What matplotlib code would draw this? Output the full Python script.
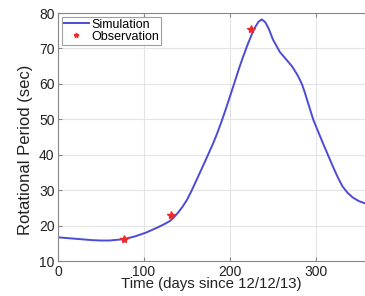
import matplotlib.pyplot as plt

plt.rcParams["font.family"] = ["Liberation Sans", "DejaVu Sans"]

# simulated rotational period
sim_days = [0, 20, 40, 50, 60, 77, 90, 103, 115, 125, 130, 135, 140, 145, 150,
            155, 160, 170, 180, 185, 190, 195, 200, 205, 210, 215, 220, 225,
            229, 233, 237, 241, 245, 250, 258, 265, 272, 278, 281, 284, 287,
            290, 297, 308, 320, 326, 331, 337, 343, 350, 357]
sim_period = [16.7, 16.3, 15.9, 15.8, 15.8, 16.2, 17.0, 18.1, 19.4, 20.6, 21.3,
              22.4, 23.8, 25.4, 27.3, 29.7, 32.3, 37.6, 43.0, 46.0, 49.3, 52.8,
              56.5, 60.2, 64.0, 67.5, 70.8, 73.8, 75.9, 77.5, 78.2, 77.4, 75.6,
              72.5, 69.0, 67.0, 65.0, 62.7, 61.3, 59.7, 57.6, 55.2, 49.8, 43.3,
              36.5, 33.3, 31.0, 29.2, 27.9, 26.9, 26.3]

# observed periods
obs_days = [77, 131, 224]
obs_period = [16.3, 23.0, 75.5]

x_ticks = [0, 100, 200, 300]
y_ticks = [10, 20, 30, 40, 50, 60, 70, 80]

fig = plt.figure(figsize=(3.65, 2.96), dpi=100)
ax = fig.add_axes([0.159, 0.118, 0.841, 0.838])

ax.plot(sim_days, sim_period, color="#4b4bd6", lw=1.4, label="Simulation")
ax.plot(obs_days, obs_period, ls="none", marker="*", ms=6, color="#ee2a2a",
        mec="#ee2a2a", label="Observation")

ax.set_xlim(0, 357)
ax.set_ylim(10, 80)
ax.set_xticks(x_ticks)
ax.set_yticks(y_ticks)
ax.grid(True, color="#e4e4e4", lw=0.8)
ax.set_axisbelow(True)
ax.tick_params(direction="in", length=3, labelsize=10, colors="#888888",
               labelcolor="#222222", top=True, right=False, pad=2.5)
for side in ("left", "bottom", "top"):
    ax.spines[side].set_color("#888888")
ax.spines["right"].set_visible(False)

ax.set_xlabel("Time (days since 12/12/13)", fontsize=10.8, color="#222222",
              labelpad=-1)
ax.set_ylabel("Rotational Period (sec)", fontsize=12, color="#222222")
ax.yaxis.set_label_coords(-0.08, 0.45)

leg = ax.legend(loc="upper left", fontsize=9, frameon=True, fancybox=False,
                borderpad=0.15, handlelength=2.0, handletextpad=0.2,
                labelspacing=0.0, borderaxespad=0.3, markerscale=0.6)
leg.get_frame().set_edgecolor("#888888")
leg.get_frame().set_linewidth(0.8)

fig.savefig("out.png", dpi=100)
